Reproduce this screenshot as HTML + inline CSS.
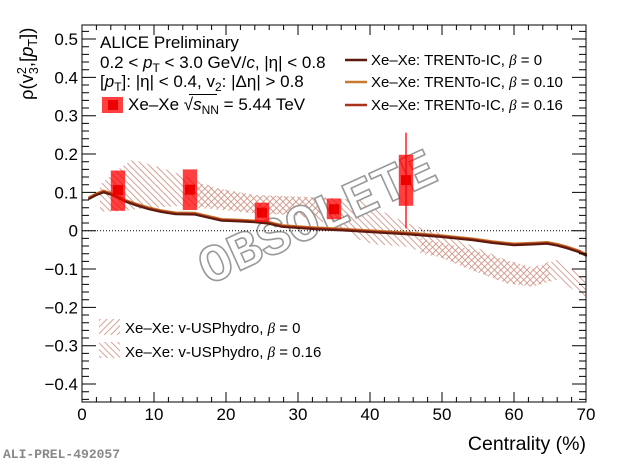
<!DOCTYPE html>
<html><head><meta charset="utf-8"><style>
html,body{margin:0;padding:0;background:#fff;}
svg{display:block;font-family:"Liberation Sans",Arial,sans-serif;}
</style></head><body>
<svg width="620" height="466" viewBox="0 0 620 466" xmlns="http://www.w3.org/2000/svg">
<defs>
<pattern id="hB" patternUnits="userSpaceOnUse" width="4.6" height="4.6" patternTransform="rotate(-45)"><line x1="2.3" y1="-1" x2="2.3" y2="6" stroke="#cf8c7c" stroke-width="0.8"/></pattern>
<pattern id="hF" patternUnits="userSpaceOnUse" width="4.6" height="4.6" patternTransform="rotate(45)"><line x1="2.3" y1="-1" x2="2.3" y2="6" stroke="#cf8c7c" stroke-width="0.8"/></pattern>
<path id="lt" d="M82 31.4h7M82 39h14M82 46.7h7M82 54.4h7M82 62h7M82 69.7h7M82 77.4h14M82 85h7M82 92.7h7M82 100.4h7M82 108h7M82 115.7h14M82 123.4h7M82 131h7M82 138.7h7M82 146.4h7M82 154h14M82 161.7h7M82 169.4h7M82 177h7M82 184.7h7M82 192.4h14M82 200h7M82 207.7h7M82 215.4h7M82 223h7M82 230.7h14M82 238.4h7M82 246h7M82 253.7h7M82 261.4h7M82 269h14M82 276.7h7M82 284.4h7M82 292h7M82 299.7h7M82 307.4h14M82 315h7M82 322.7h7M82 330.4h7M82 338h7M82 345.7h14M82 353.4h7M82 361h7M82 368.7h7M82 376.4h7M82 384h14M82 391.7h7M82 399.4h7" stroke="#000" stroke-width="1" fill="none"/>
<path id="bt" d="M82 402v-10M96.4 402v-5M110.8 402v-5M125.2 402v-5M139.6 402v-5M154 402v-10M168.4 402v-5M182.8 402v-5M197.2 402v-5M211.6 402v-5M226 402v-10M240.4 402v-5M254.8 402v-5M269.2 402v-5M283.6 402v-5M298 402v-10M312.4 402v-5M326.8 402v-5M341.2 402v-5M355.6 402v-5M370 402v-10M384.4 402v-5M398.8 402v-5M413.2 402v-5M427.6 402v-5M442 402v-10M456.4 402v-5M470.8 402v-5M485.2 402v-5M499.6 402v-5M514 402v-10M528.4 402v-5M542.8 402v-5M557.2 402v-5M571.6 402v-5M586 402v-10" stroke="#000" stroke-width="1" fill="none"/>
<path id="curve" d="M89.2 198.1 L96.4 194.3 L103.6 191.6 L110.8 193.9 L118 197 L125.2 200.8 L136 204.6 L149 208.5 L161.2 211.2 L175.6 213.5 L195 213.8 L208 216.9 L221.7 220 L240.4 220.7 L254.8 221.5 L269.2 223 L282.2 226.1 L298 227.2 L315.3 228.4 L341.2 229.6 L360 230.7 L384.4 232.2 L406 233.4 L439.8 236.1 L473 239.5 L492.4 242.2 L514 244.5 L532.7 243.7 L547.1 243 L557.2 244.9 L567.3 247.6 L578.8 251.4 L586 254.9" fill="none" stroke-linejoin="round" stroke-linecap="round"/>
</defs>

<polygon fill="url(#hB)" points="100,184.7 118,169.4 132.4,159.8 154,165.5 182.8,175.1 216.6,188.2 254.8,195.1 298,196.6 334,198.1 360,200.1 372.9,206.6 406,223 439.8,233 473,246 506.8,260.2 532.7,269 557.2,259.8 583.1,276.7 586,276.7 586,297.8 583.1,295.9 557.2,279.8 532.7,286.7 506.8,283.2 473,270.2 439.8,257.1 406,246.8 372.9,244.1 360,239.9 334,225 298,215.4 254.8,213.5 216.6,207.7 182.8,205.8 154,207.7 132.4,209.6 118,211.5 100,211.5"/>
<polygon fill="url(#hF)" points="197.2,182.8 216.6,188.2 254.8,195.1 298,196.6 326.8,197.7 326.8,215.4 298,214.6 254.8,213.5 216.6,209.6 197.2,207.7"/>
<polygon fill="url(#hF)" points="420.4,238.4 439.8,242.2 473,249.9 506.8,260.2 532.7,267.1 550,261.4 550,280.5 532.7,286.7 506.8,283.2 473,270.9 439.8,257.1 420.4,253.7"/>

<text transform="translate(317,217) rotate(-24.5)" x="0" y="17" text-anchor="middle" font-family="Liberation Mono, monospace" font-weight="bold" font-size="53" fill="#fff" stroke="#999" stroke-width="1.6">OBSOLETE</text>

<line x1="82" y1="230.7" x2="586" y2="230.7" stroke="#000" stroke-width="1" stroke-dasharray="1 2"/>

<use href="#curve" stroke="#c77a30" stroke-width="2.2" transform="translate(0,-0.9)"/>
<use href="#curve" stroke="#a8321a" stroke-width="2.2"/>
<use href="#curve" stroke="#5c1a0e" stroke-width="2" transform="translate(0,0.8)"/>

<line x1="406" y1="132.7" x2="406" y2="228.3" stroke="#f00" stroke-width="1.3"/>
<g fill="rgba(255,0,0,0.75)">
<rect x="110.8" y="170.5" width="14.4" height="40.3"/>
<rect x="182.8" y="169.4" width="14.4" height="40.6"/>
<rect x="254.8" y="202.7" width="14.4" height="19.2"/>
<rect x="326.8" y="198.5" width="14.4" height="20.7"/>
<rect x="398.8" y="154.8" width="14.4" height="51"/>
</g>
<g fill="#ee0000">
<rect x="113" y="185.1" width="10" height="10"/>
<rect x="185" y="184.7" width="10" height="10"/>
<rect x="257" y="207.7" width="10" height="10"/>
<rect x="329" y="204.2" width="10" height="10"/>
<rect x="401" y="175.1" width="10" height="10"/>
</g>

<rect x="82" y="25" width="504" height="377" fill="none" stroke="#000" stroke-width="1"/>
<use href="#lt"/>
<use href="#lt" transform="translate(668,0) scale(-1,1)"/>
<use href="#bt"/>
<use href="#bt" transform="translate(0,427) scale(1,-1)"/>

<g font-size="17" text-anchor="end" fill="#000">
<text x="78" y="45">0.5</text>
<text x="78" y="83.4">0.4</text>
<text x="78" y="121.7">0.3</text>
<text x="78" y="160">0.2</text>
<text x="78" y="198.4">0.1</text>
<text x="78" y="236.7">0</text>
<text x="78" y="275">−0.1</text>
<text x="78" y="313.4">−0.2</text>
<text x="78" y="351.7">−0.3</text>
<text x="78" y="390">−0.4</text>
</g>
<g font-size="17" text-anchor="middle" fill="#000">
<text x="82" y="420">0</text>
<text x="154" y="420">10</text>
<text x="226" y="420">20</text>
<text x="298" y="420">30</text>
<text x="370" y="420">40</text>
<text x="442" y="420">50</text>
<text x="514" y="420">60</text>
<text x="586" y="420">70</text>
</g>
<text x="586" y="450" font-size="19.5" text-anchor="end">Centrality (%)</text>

<text transform="translate(33,100) rotate(-90)" font-size="18.5">ρ(v<tspan font-size="12.5" dy="-7">2</tspan><tspan font-size="12.5" dx="-7" dy="12">3</tspan><tspan dy="-5">,[</tspan><tspan font-style="italic">p</tspan><tspan font-size="12.5" dy="4">T</tspan><tspan dy="-4">])</tspan></text>

<g font-size="17" fill="#000">
<text x="100" y="48">ALICE Preliminary</text>
<text x="100" y="68">0.2 &lt; <tspan font-style="italic">p</tspan><tspan font-size="12" dy="4">T</tspan><tspan dy="-4"> &lt; 3.0 GeV/</tspan><tspan font-style="italic">c</tspan>, |η| &lt; 0.8</text>
<text x="100" y="87">[<tspan font-style="italic">p</tspan><tspan font-size="12" dy="4">T</tspan><tspan dy="-4">]: |η| &lt; 0.4, v</tspan><tspan font-size="12" dy="4">2</tspan><tspan dy="-4">: |Δη| &gt; 0.8</tspan></text>
<text x="128" y="110">Xe–Xe √<tspan font-style="italic">s</tspan><tspan font-size="12" dy="4">NN</tspan><tspan dy="-4"> = 5.44 TeV</tspan></text>
</g>
<line x1="189" y1="94.5" x2="217" y2="94.5" stroke="#000" stroke-width="1"/>
<rect x="102" y="97" width="21" height="16" fill="rgba(255,0,0,0.75)"/>
<rect x="108" y="100" width="10" height="10" fill="#ee0000"/>

<line x1="345" y1="60" x2="367" y2="60" stroke="#5c1a0e" stroke-width="2.5"/>
<line x1="345" y1="82" x2="367" y2="82" stroke="#c77a30" stroke-width="2.5"/>
<line x1="345" y1="105" x2="367" y2="105" stroke="#a8321a" stroke-width="2.5"/>
<g font-size="15" fill="#000">
<text x="371" y="65">Xe–Xe: TRENTo-IC, <tspan font-family="Liberation Serif, serif" font-style="italic">β</tspan> = 0</text>
<text x="371" y="87">Xe–Xe: TRENTo-IC, <tspan font-family="Liberation Serif, serif" font-style="italic">β</tspan> = 0.10</text>
<text x="371" y="110">Xe–Xe: TRENTo-IC, <tspan font-family="Liberation Serif, serif" font-style="italic">β</tspan> = 0.16</text>
</g>

<rect x="99" y="319" width="21" height="16" fill="url(#hF)"/>
<rect x="99" y="342" width="21" height="16" fill="url(#hB)"/>
<g font-size="15" fill="#000">
<text x="125" y="333">Xe–Xe: v-USPhydro, <tspan font-family="Liberation Serif, serif" font-style="italic">β</tspan> = 0</text>
<text x="125" y="357">Xe–Xe: v-USPhydro, <tspan font-family="Liberation Serif, serif" font-style="italic">β</tspan> = 0.16</text>
</g>

<text x="3" y="458" font-family="Liberation Mono, monospace" font-weight="bold" font-size="13" fill="#888">ALI-PREL-492057</text>
</svg>
</body></html>
